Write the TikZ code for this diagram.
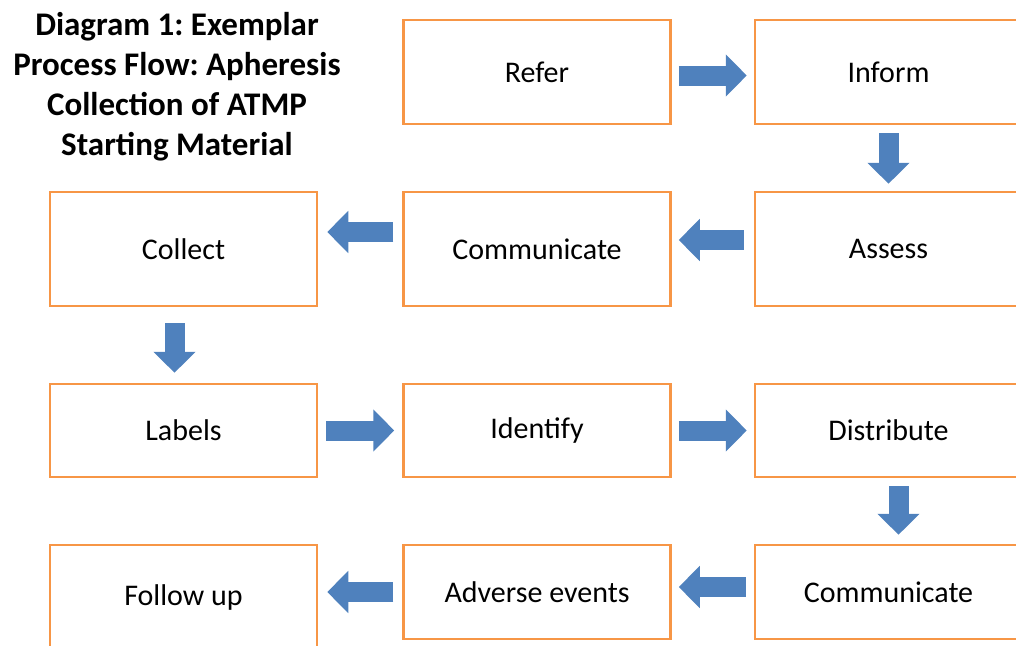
\documentclass[tikz,border=0pt]{standalone}
\usepackage{fontspec}
\setmainfont{Carlito}
\usetikzlibrary{arrows.meta}
\frenchspacing

\definecolor{boxorange}{RGB}{247,150,70}
\definecolor{flowblue}{RGB}{79,129,189}

\begin{document}
\begin{tikzpicture}[x=1pt, y=-1pt,
  stepbox/.style={draw=boxorange, line width=2.5pt, fill=white, minimum width=267pt,
    inner sep=0pt, font=\fontsize{30}{36}\selectfont},
  flow/.style={draw=flowblue, line width=20pt, line cap=butt,
    -{Triangle[length=21pt,width=41pt]}, shorten <=7pt, shorten >=7pt}]

  %% title
  \node[align=center, font=\bfseries\fontsize{33}{40}\selectfont] (title) at (177,87)
    {Diagram 1: Exemplar\\Process Flow: Apheresis\\Collection of ATMP\\Starting Material};

  %% row 1
  \node[stepbox, minimum height=104pt] (refer)  at (537,72)    {Refer};
  \node[stepbox, minimum height=104pt] (inform) at (888.5,72)  {Inform};
  %% row 2
  \node[stepbox, minimum height=114pt] (collect) at (183.5,249) {Collect};
  \node[stepbox, minimum height=114pt] (commA)   at (537,249)   {Communicate};
  \node[stepbox, minimum height=114pt] (assess)  at (888.5,249) {Assess};
  %% row 3
  \node[stepbox, minimum height=93pt] (labels)     at (183.5,430.5) {Labels};
  \node[stepbox, minimum height=93pt] (identify)   at (537,430.5)   {Identify};
  \node[stepbox, minimum height=93pt] (distribute) at (888.5,430.5) {Distribute};
  %% row 4
  \node[stepbox, minimum height=104pt] (followup) at (183.5,597) {Follow up};
  \node[stepbox, minimum height=94pt]  (adverse)  at (537,592)   {Adverse events};
  \node[stepbox, minimum height=94pt]  (commB)    at (888.5,592) {Communicate};

  %% flow arrows
  \draw[flow] ([yshift=-3.5pt]refer.east) -- ([yshift=-3.5pt]inform.west);
  \draw[flow, shorten <=8pt] (inform.south) -- (assess.north);
  \draw[flow, shorten <=10pt] ([yshift=9pt]assess.west) -- ([yshift=9pt]commA.east);
  \draw[flow, shorten <=9pt, shorten >=9pt] ([yshift=17pt]commA.west) -- ([yshift=17pt]collect.east);
  \draw[flow, shorten <=16pt, shorten >=10pt] ([xshift=-9pt]collect.south) -- ([xshift=-9pt]labels.north);
  \draw[flow, shorten <=8pt, shorten >=8pt] (labels) -- (identify);
  \draw[flow] (identify) -- (distribute);
  \draw[flow, shorten <=8pt, shorten >=9pt] ([xshift=10pt]distribute.south) -- ([xshift=10pt]commB.north);
  \draw[flow, shorten <=8pt] ([yshift=5pt]commB.west) -- ([yshift=5pt]adverse.east);
  \draw[flow, shorten <=9pt, shorten >=9pt] (adverse.west) -- (adverse.west -| followup.east);

  \pgfresetboundingbox
  \path[use as bounding box] (0,0) rectangle (1016,645);
\end{tikzpicture}
\end{document}
